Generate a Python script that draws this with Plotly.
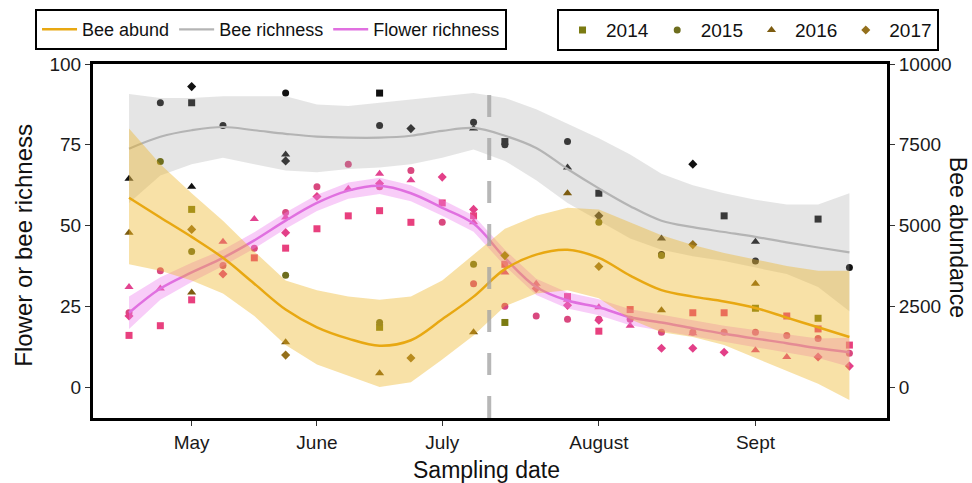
import plotly.graph_objects as go

# ---------------- data ----------------
# x = weekly sampling index (0 .. 23)
sample_idx = list(range(24))
month_ticks = [2, 6, 10, 15, 20]
month_labels = ["May", "June", "July", "August", "Sept"]
break_idx = 11.5

# smoothed fits (left axis units for richness, bee abundance in individuals)
bee_rich_fit = [73.8, 77.5, 79.5, 80.5, 79.5, 78.4, 77.5, 77.2, 77.2, 77.8, 79.3, 80.2,
                77.8, 74.0, 67.5, 61.5, 56.0, 51.5, 49.5, 48.0, 46.5, 44.8, 43.2, 41.7]
bee_rich_hi = [90.7, 89.5, 89.5, 90.0, 90.0, 90.0, 87.5, 87.0, 88.0, 89.0, 90.0, 91.0,
               89.5, 86.0, 81.5, 77.0, 72.0, 66.0, 62.5, 60.0, 58.0, 56.5, 56.5, 60.0]
bee_rich_lo = [57.0, 65.5, 69.0, 71.0, 69.0, 67.0, 66.5, 67.5, 68.0, 69.0, 71.0, 73.5,
               70.0, 64.0, 57.0, 51.5, 46.0, 42.5, 40.5, 39.0, 37.0, 35.0, 31.0, 23.5]

bee_abund_fit = [5860, 5250, 4650, 4000, 3200, 2400, 1850, 1500, 1280, 1450, 2100, 2800,
                 3650, 4100, 4250, 4000, 3450, 3000, 2800, 2650, 2450, 2150, 1850, 1550]
bee_abund_hi = [8000, 6900, 6000, 5150, 4200, 3300, 3000, 2800, 2700, 2800, 3300, 4100,
                4900, 5300, 5550, 5500, 5100, 4700, 4400, 4150, 3950, 3750, 3600, 3600]
bee_abund_lo = [3800, 3600, 3300, 2900, 2200, 1300, 700, 350, 0, 150, 850, 1600,
                2500, 2900, 3000, 2750, 2100, 1700, 1550, 1300, 900, 500, 100, -400]

flower_fit = [23.0, 30.5, 35.5, 40.0, 45.4, 51.5, 57.0, 60.8, 62.3, 60.0, 55.5, 50.6,
              40.0, 31.0, 26.8, 24.7, 21.6, 20.0, 18.2, 16.5, 15.0, 13.6, 12.0, 10.8]
flower_hi = [28.0, 34.0, 38.5, 42.5, 47.9, 54.0, 59.5, 63.3, 64.8, 62.5, 58.0, 53.1,
             42.5, 33.5, 29.3, 27.2, 24.1, 22.5, 20.7, 19.0, 17.7, 16.4, 15.0, 15.3]
flower_lo = [18.0, 27.0, 32.5, 37.5, 42.9, 49.0, 54.5, 58.3, 59.8, 57.5, 53.0, 48.1,
             37.5, 28.5, 24.3, 22.2, 19.1, 17.5, 15.7, 14.0, 12.3, 10.8, 9.0, 6.3]

years = ["2014", "2015", "2016", "2017"]

# observed bee richness
bee_rich_x = {"2014": [2, 8, 12, 15, 19, 22],
              "2015": [1, 3, 5, 8, 11, 12, 14, 17, 20, 23],
              "2016": [0, 2, 5, 11, 14, 17, 20],
              "2017": [2, 5, 9, 15, 18]}
bee_rich_y = {"2014": [88, 91, 76, 60, 53, 52],
              "2015": [88, 81, 91, 81, 82, 75, 76, 41, 39, 37],
              "2016": [64.5, 62, 72, 80, 68, 46, 45],
              "2017": [93, 70, 80, 53, 69]}

# observed bee abundance
bee_abund_x = {"2014": [2, 8, 12, 20, 22],
               "2015": [1, 2, 5, 8, 11, 15, 17],
               "2016": [0, 2, 5, 8, 11, 14, 17, 20],
               "2017": [2, 5, 9, 12, 15, 18]}
bee_abund_y = {"2014": [5500, 1850, 2000, 2440, 2130],
               "2015": [6980, 4200, 3460, 2000, 3800, 5100, 4070],
               "2016": [4780, 2930, 1390, 430, 1700, 6000, 2380, 3200],
               "2017": [4880, 990, 900, 4070, 3730, 4410]}

# observed flower richness
flower_x = {"2014": [0, 1, 2, 4, 5, 6, 7, 8, 9, 10, 11, 12, 14, 15, 16, 18, 19, 21, 22, 23],
            "2015": [0, 1, 3, 4, 5, 6, 7, 8, 9, 10, 11, 12, 13, 14, 15, 16, 17, 18, 19, 20, 21, 22, 23],
            "2016": [0, 1, 3, 4, 5, 7, 8, 9, 11, 12, 13, 14, 15, 16, 18, 20, 21],
            "2017": [0, 3, 5, 6, 8, 10, 11, 13, 14, 15, 17, 18, 19, 22, 23]}
flower_y = {"2014": [16, 19, 27, 40, 43, 49, 53, 54.6, 51, 57, 53, 38, 28, 17.3, 24, 23, 23, 22, 18, 13],
            "2015": [23, 36, 37.6, 43, 54, 62, 69, 62, 67, 51, 32, 25, 22, 21, 21, 21, 17, 17, 17, 17, 16, 15, 10.5],
            "2016": [31, 30.5, 45, 52, 52.5, 61.4, 66, 64, 51, 35.5, 32, 27, 24.7, 19, 16.7, 11.4, 9.3],
            "2017": [22, 35, 47.8, 59, 63, 65, 55, 30.5, 25.3, 20.7, 12, 12, 10.8, 9.3, 6.5]}

# ---------------- styles ----------------
FONT = "Liberation Sans, Arial, Helvetica, sans-serif"
symbols = {"2014": "square", "2015": "circle", "2016": "triangle-up", "2017": "diamond"}
sizes = {"2014": 7, "2015": 7, "2016": 8, "2017": 7}
year_colors = {"2014": "#7b7b12", "2015": "#6e6e1e", "2016": "#7d5c10", "2017": "#94701c"}
flower_pt_colors = {"2014": "#e8407e", "2015": "#d9487f", "2016": "#e24490", "2017": "#e33f88"}

fig = go.Figure()

# points (drawn below the ribbons)
for yr in years:
    fig.add_trace(go.Scatter(x=flower_x[yr], y=flower_y[yr], mode="markers",
                             marker=dict(symbol=symbols[yr], size=sizes[yr], color=flower_pt_colors[yr]),
                             showlegend=False, hoverinfo="skip"))
for yr in years:
    fig.add_trace(go.Scatter(x=bee_rich_x[yr], y=bee_rich_y[yr], mode="markers",
                             marker=dict(symbol=symbols[yr], size=sizes[yr], color="#111111"),
                             showlegend=False, hoverinfo="skip"))

# grey ribbon (bee richness)
fig.add_trace(go.Scatter(x=sample_idx, y=bee_rich_hi, mode="lines", line=dict(width=0),
                         showlegend=False, hoverinfo="skip"))
fig.add_trace(go.Scatter(x=sample_idx, y=bee_rich_lo, mode="lines", line=dict(width=0),
                         fill="tonexty", fillcolor="rgba(160,160,160,0.28)",
                         showlegend=False, hoverinfo="skip"))
# pink ribbon (flower richness)
fig.add_trace(go.Scatter(x=sample_idx, y=flower_hi, mode="lines", line=dict(width=0),
                         showlegend=False, hoverinfo="skip"))
fig.add_trace(go.Scatter(x=sample_idx, y=flower_lo, mode="lines", line=dict(width=0),
                         fill="tonexty", fillcolor="rgba(238,130,238,0.40)",
                         showlegend=False, hoverinfo="skip"))

fig.add_trace(go.Scatter(x=sample_idx, y=bee_rich_fit, mode="lines", name="Bee richness",
                         line=dict(color="#b4b4b4", width=2.2, shape="spline"),
                         legend="legend", legendrank=2, hoverinfo="skip"))
fig.add_trace(go.Scatter(x=sample_idx, y=flower_fit, mode="lines", name="Flower richness",
                         line=dict(color="#e070e0", width=2.5, shape="spline"),
                         legend="legend", legendrank=3, hoverinfo="skip"))

# bee abundance on the right axis
for i, yr in enumerate(years):
    fig.add_trace(go.Scatter(x=bee_abund_x[yr], y=bee_abund_y[yr], mode="markers", yaxis="y2",
                             name=yr, legend="legend2", legendrank=i + 1,
                             marker=dict(symbol=symbols[yr], size=sizes[yr], color=year_colors[yr]),
                             hoverinfo="skip"))
fig.add_trace(go.Scatter(x=sample_idx, y=bee_abund_hi, mode="lines", yaxis="y2", line=dict(width=0),
                         showlegend=False, hoverinfo="skip"))
fig.add_trace(go.Scatter(x=sample_idx, y=bee_abund_lo, mode="lines", yaxis="y2", line=dict(width=0),
                         fill="tonexty", fillcolor="rgba(238,180,34,0.40)",
                         showlegend=False, hoverinfo="skip"))
fig.add_trace(go.Scatter(x=sample_idx, y=bee_abund_fit, mode="lines", yaxis="y2", name="Bee abund",
                         line=dict(color="#e8a812", width=2.5, shape="spline"),
                         legend="legend", legendrank=1, hoverinfo="skip"))

# vertical dashed break line
fig.add_shape(type="line", xref="x", yref="y", x0=break_idx, x1=break_idx, y0=-9.57, y1=96,
              line=dict(color="rgba(165,165,165,0.8)", width=4, dash="22px,21px"), layer="above")

tick_font = dict(family=FONT, size=19, color="#1a1a1a")
fig.update_layout(
    width=972, height=483,
    margin=dict(l=93, r=85, t=64, b=65, autoexpand=False),
    paper_bgcolor="white", plot_bgcolor="white",
    font=dict(family=FONT, color="#111111"),
    xaxis=dict(range=[-1.15, 24.2], tickvals=month_ticks, ticktext=month_labels,
               showgrid=False, zeroline=False, showline=True, linecolor="black", linewidth=2.5,
               mirror=True, ticks="outside", ticklen=5, tickwidth=1.2, tickcolor="#333333",
               tickfont=tick_font),
    yaxis=dict(range=[-9.57, 100], tickvals=[0, 25, 50, 75, 100],
               showgrid=False, zeroline=False, showline=True, linecolor="black", linewidth=3,
               ticks="outside", ticklen=5, tickwidth=1.2, tickcolor="#333333", tickfont=tick_font),
    yaxis2=dict(range=[-957, 10000], tickvals=[0, 2500, 5000, 7500, 10000], tickformat="d",
                overlaying="y", side="right", showgrid=False, zeroline=False, showline=True,
                linecolor="black", linewidth=3, ticks="outside", ticklen=5, tickwidth=1.2,
                tickcolor="#333333", tickfont=tick_font),
    legend=dict(orientation="h", x=-0.073, xanchor="left", y=1.155, yanchor="top",
                traceorder="normal", bordercolor="black", borderwidth=2, bgcolor="white",
                itemwidth=35, font=dict(family=FONT, size=18, color="#111111")),
    legend2=dict(orientation="h", x=0.5844, xanchor="left", y=1.155, yanchor="top",
                 traceorder="normal", bordercolor="black", borderwidth=2, bgcolor="white",
                 itemwidth=37, font=dict(family=FONT, size=19, color="#111111")),
    annotations=[
        dict(text="Sampling date", xref="paper", yref="paper", x=0.495, y=-0.147,
             xanchor="center", yanchor="middle", showarrow=False,
             font=dict(family=FONT, size=23, color="#111111")),
        dict(text="Flower or bee richness", xref="paper", yref="paper", x=-0.088, y=0.487,
             xanchor="center", yanchor="middle", textangle=-90, showarrow=False,
             font=dict(family=FONT, size=24, color="#111111")),
        dict(text="Bee abundance", xref="paper", yref="paper", x=1.089, y=0.51,
             xanchor="center", yanchor="middle", textangle=90, showarrow=False,
             font=dict(family=FONT, size=23, color="#111111")),
    ],
)

fig.write_html("out.html", config={"displayModeBar": False},
               post_script="document.body.style.margin='0px';document.body.style.overflow='hidden';")
